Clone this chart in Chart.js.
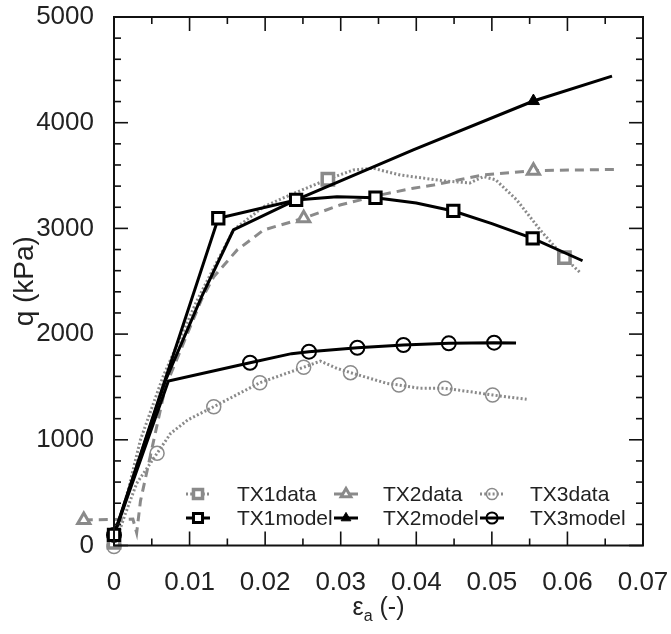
<!DOCTYPE html>
<html><head><meta charset="utf-8">
<script src="https://cdn.jsdelivr.net/npm/chart.js@4.4.1/dist/chart.umd.min.js"></script>
<style>html,body{margin:0;padding:0;background:#fff;}#wrap{width:671px;height:634px;position:relative;}</style>
</head><body><div id="wrap"><canvas id="c"></canvas></div>
<script>
// ---- axis ticks ----
const xTicks = [0, 0.01, 0.02, 0.03, 0.04, 0.05, 0.06, 0.07];
const xTickLabels = ['0', '0.01', '0.02', '0.03', '0.04', '0.05', '0.06', '0.07'];
const xMinorTicks = [0.005, 0.015, 0.025, 0.035, 0.045, 0.055, 0.065];
const yTicks = [0, 1000, 2000, 3000, 4000, 5000];
const yTickLabels = ['0', '1000', '2000', '3000', '4000', '5000'];
const yMinorTicks = [200, 400, 600, 800, 1200, 1400, 1600, 1800, 2200, 2400, 2600, 2800, 3200, 3400, 3600, 3800, 4200, 4400, 4600, 4800];

// ---- series ----
const seriesLabels = ['TX1data', 'TX2data', 'TX3data', 'TX1model', 'TX2model', 'TX3model'];

const tx1DataStrain = [0, 0.002, 0.0035, 0.0065, 0.011, 0.0158, 0.0198, 0.0233, 0.0283, 0.0317, 0.0343, 0.0379, 0.0436, 0.0471, 0.0489, 0.0505, 0.0533, 0.0564, 0.0596, 0.0617];
const tx1DataQ      = [30, 560, 1000, 1600, 2320, 2985, 3205, 3316, 3465, 3553, 3569, 3505, 3450, 3430, 3490, 3460, 3269, 2985, 2723, 2581];
const tx1DataMarkStrain = [0, 0.0283, 0.0596];
const tx1DataMarkQ      = [30, 3465, 2723];

const tx2DataStrain = [-0.004, 0.0025, 0.003, 0.0035, 0.0068, 0.0116, 0.0132, 0.0163, 0.0198, 0.0251, 0.0299, 0.0352, 0.0396, 0.0423, 0.0489, 0.0555, 0.0669];
const tx2DataQ      = [241, 250, 120, 420, 1500, 2330, 2543, 2796, 2985, 3096, 3221, 3316, 3380, 3411, 3506, 3546, 3559];
const tx2DataMarkStrain = [-0.004, 0.0251, 0.0555];
const tx2DataMarkQ      = [241, 3096, 3546];

const tx3DataStrain = [0, 0.0015, 0.003, 0.0057, 0.0075, 0.0098, 0.0132, 0.0193, 0.0251, 0.0273, 0.0295, 0.0313, 0.0361, 0.0377, 0.0405, 0.0438, 0.0471, 0.0501, 0.0546];
const tx3DataQ      = [-10, 300, 588, 872, 1061, 1190, 1313, 1540, 1686, 1745, 1676, 1635, 1534, 1518, 1487, 1487, 1455, 1424, 1383];
const tx3DataMarkStrain = [0, 0.0057, 0.0132, 0.0193, 0.0251, 0.0313, 0.0377, 0.0438, 0.0501];
const tx3DataMarkQ      = [-10, 872, 1313, 1540, 1686, 1635, 1518, 1487, 1424];

const tx1ModelStrain = [0, 0.0138, 0.0241, 0.0295, 0.0346, 0.040, 0.0449, 0.050, 0.0554, 0.062];
const tx1ModelQ      = [100, 3096, 3269, 3300, 3290, 3240, 3165, 3045, 2906, 2694];
const tx1ModelMarkStrain = [0, 0.0138, 0.0241, 0.0346, 0.0449, 0.0554];
const tx1ModelMarkQ      = [100, 3096, 3269, 3290, 3165, 2906];

const tx2ModelStrain = [0, 0.0068, 0.0116, 0.0158, 0.0241, 0.0396, 0.0555, 0.0659];
const tx2ModelQ      = [100, 1560, 2354, 2985, 3269, 3742, 4205, 4440];
const tx2ModelMarkStrain = [0, 0.0555];
const tx2ModelMarkQ      = [100, 4205];

const tx3ModelStrain = [0, 0.0072, 0.018, 0.0235, 0.0258, 0.0322, 0.0383, 0.0443, 0.0503, 0.0532];
const tx3ModelQ      = [100, 1556, 1729, 1815, 1834, 1871, 1897, 1913, 1919, 1915];
const tx3ModelMarkStrain = [0, 0.018, 0.0258, 0.0322, 0.0383, 0.0443, 0.0503];
const tx3ModelMarkQ      = [100, 1729, 1834, 1871, 1897, 1913, 1919];

// ---- build ----
const pts = (xs, ys) => xs.map((v, i) => ({x: v, y: ys[i]}));
const GRAY = '#8a8a8a';
const FONT = '"Liberation Sans", Arial, sans-serif';

const styles = {
  TX1data:  {color: GRAY, width: 3, dash: [2, 2.2], marker: 'rect', radius: 8, mborder: 3.5, mfill: '#ffffff'},
  TX2data:  {color: GRAY, width: 3, dash: [9, 6], marker: 'triangle', radius: 7, mborder: 3, mfill: '#ffffff'},
  TX3data:  {color: GRAY, width: 3, dash: [2, 2.2], marker: 'circle', radius: 7, mborder: 1.5, mfill: 'rgba(0,0,0,0)'},
  TX1model: {color: '#000', width: 3, dash: [], marker: 'rect', radius: 8, mborder: 3, mfill: '#ffffff'},
  TX2model: {color: '#000', width: 3, dash: [], marker: 'triangle', radius: 7, mborder: 1, mfill: '#000'},
  TX3model: {color: '#000', width: 3, dash: [], marker: 'circle', radius: 7, mborder: 2, mfill: 'rgba(0,0,0,0)'}
};

function lineDs(label, xs, ys) {
  const s = styles[label];
  return {label: label, data: pts(xs, ys), showLine: true, pointRadius: 0, borderColor: s.color,
    borderWidth: s.width, borderDash: s.dash, fill: false, tension: 0, clip: false};
}
function markDs(label, xs, ys) {
  const s = styles[label];
  return {label: label + ' markers', data: pts(xs, ys), showLine: false, pointStyle: s.marker,
    pointRadius: s.radius, pointBorderColor: s.color, pointBackgroundColor: s.mfill,
    pointBorderWidth: s.mborder, clip: false};
}

const datasets = [
  markDs('TX1model', tx1ModelMarkStrain, tx1ModelMarkQ),
  markDs('TX2model', tx2ModelMarkStrain, tx2ModelMarkQ),
  markDs('TX3model', tx3ModelMarkStrain, tx3ModelMarkQ),
  lineDs('TX1model', tx1ModelStrain, tx1ModelQ),
  lineDs('TX2model', tx2ModelStrain, tx2ModelQ),
  lineDs('TX3model', tx3ModelStrain, tx3ModelQ),
  markDs('TX1data', tx1DataMarkStrain, tx1DataMarkQ),
  markDs('TX2data', tx2DataMarkStrain, tx2DataMarkQ),
  markDs('TX3data', tx3DataMarkStrain, tx3DataMarkQ),
  lineDs('TX1data', tx1DataStrain, tx1DataQ),
  lineDs('TX2data', tx2DataStrain, tx2DataQ),
  lineDs('TX3data', tx3DataStrain, tx3DataQ)
];

const frameTicks = {
  id: 'frameTicks',
  afterDatasetsDraw(chart) {
    const {ctx, chartArea: a, scales: {x, y}} = chart;
    ctx.save();
    // markers lying outside the plotting area (Chart.js skips them)
    const big = {left: -1e5, right: 1e5, top: -1e5, bottom: 1e5};
    chart.data.datasets.forEach((ds, i) => {
      if (ds.showLine !== false) return;
      chart.getDatasetMeta(i).data.forEach(el => {
        const out = el.x < a.left - 4 || el.x > a.right + 4 || el.y < a.top - 4 || el.y > a.bottom + 4;
        if (out) el.draw(ctx, big);
      });
    });

    ctx.strokeStyle = '#111';
    ctx.lineWidth = 1.6;
    ctx.setLineDash([]);
    const seg = (x1, y1, x2, y2) => { ctx.beginPath(); ctx.moveTo(x1, y1); ctx.lineTo(x2, y2); ctx.stroke(); };
    xTicks.forEach(v => { const p = x.getPixelForValue(v); seg(p, a.bottom, p, a.bottom - 14); seg(p, a.top, p, a.top + 14); });
    xMinorTicks.forEach(v => { const p = x.getPixelForValue(v); seg(p, a.bottom, p, a.bottom - 7); seg(p, a.top, p, a.top + 7); });
    yTicks.forEach(v => { const p = y.getPixelForValue(v); seg(a.left, p, a.left + 14, p); seg(a.right, p, a.right - 14, p); });
    yMinorTicks.forEach(v => { const p = y.getPixelForValue(v); seg(a.left, p, a.left + 7, p); seg(a.right, p, a.right - 7, p); });
    ctx.lineWidth = 2;
    ctx.strokeRect(a.left, a.top, a.right - a.left, a.bottom - a.top);

    // legend
    const colX = [198, 346, 492];
    const textX = [237, 383, 530];
    const rowY = [494, 518];
    seriesLabels.forEach((lab, i) => {
      const s = styles[lab];
      const col = i % 3, row = Math.floor(i / 3);
      const cx = colX[col], cy = rowY[row];
      ctx.strokeStyle = s.color; ctx.lineWidth = s.width; ctx.setLineDash(s.dash);
      seg(cx - 12, cy, cx + 12, cy);
      ctx.setLineDash([]);
      ctx.strokeStyle = s.color; ctx.fillStyle = s.mfill; ctx.lineWidth = s.mborder;
      Chart.helpers.drawPoint(ctx, {pointStyle: s.marker, radius: s.radius * 0.8, rotation: 0, borderWidth: s.mborder}, cx, cy);
      ctx.fillStyle = '#222';
      ctx.font = '21px ' + FONT;
      ctx.textBaseline = 'middle'; ctx.textAlign = 'left';
      ctx.fillText(lab, textX[col], cy + 1);
    });

    // x-axis title with subscript
    ctx.fillStyle = '#222';
    ctx.textBaseline = 'alphabetic'; ctx.textAlign = 'left';
    const bigF = '25px ' + FONT, smallF = '16px ' + FONT;
    ctx.font = bigF; const w1 = ctx.measureText('\u03b5').width;
    ctx.font = smallF; const w2 = ctx.measureText('a').width;
    ctx.font = bigF; const w3 = ctx.measureText(' (-)').width;
    const cxT = (a.left + a.right) / 2;
    let tx = cxT - (w1 + w2 + w3) / 2;
    const base = 615;
    ctx.font = bigF; ctx.fillText('\u03b5', tx, base); tx += w1;
    ctx.font = smallF; ctx.fillText('a', tx, base + 6); tx += w2;
    ctx.font = bigF; ctx.fillText(' (-)', tx, base);
    ctx.restore();
  }
};

new Chart(document.getElementById('c'), {
  type: 'scatter',
  data: {datasets: datasets},
  options: {
    responsive: true, maintainAspectRatio: false, animation: false, events: [],
    layout: {padding: {left: 0, right: 28, top: 17, bottom: 0}},
    plugins: {legend: {display: false}, tooltip: {enabled: false}},
    scales: {
      x: {
        type: 'linear', min: 0, max: 0.07,
        afterBuildTicks: s => { s.ticks = xTicks.map(v => ({value: v})); },
        afterFit: s => { s.height = 88.5; s.paddingLeft = 0; s.paddingRight = 0; s.paddingTop = 0; s.paddingBottom = 0; },
        grid: {display: false, drawTicks: false}, border: {display: false},
        ticks: {padding: 22, color: '#222', font: {size: 26, family: FONT},
          callback: (v) => xTickLabels[xTicks.indexOf(v)] ?? ''},
        title: {display: false}
      },
      y: {
        type: 'linear', min: 0, max: 5000,
        afterBuildTicks: s => { s.ticks = yTicks.map(v => ({value: v})); },
        afterFit: s => { s.width = 114; s.paddingLeft = 0; s.paddingRight = 0; s.paddingTop = 0; s.paddingBottom = 0; },
        grid: {display: false, drawTicks: false}, border: {display: false},
        ticks: {padding: 20, color: '#222', font: {size: 26, family: FONT},
          callback: (v) => yTickLabels[yTicks.indexOf(v)] ?? ''},
        title: {display: true, text: 'q (kPa)', color: '#222', font: {size: 28, family: FONT}, padding: {top: 8, bottom: 0}}
      }
    }
  },
  plugins: [frameTicks]
});
</script>
</body></html>
